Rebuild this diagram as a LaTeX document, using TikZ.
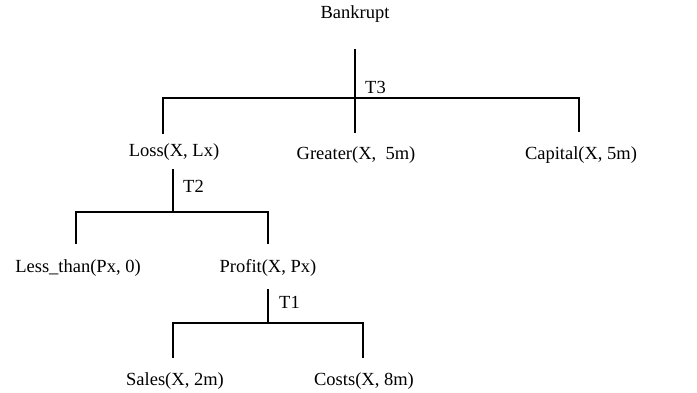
\documentclass[tikz,border=0pt]{standalone}
\usepackage{fontspec}
\setmainfont{Liberation Serif}
\begin{document}
\begin{tikzpicture}[x=1pt,y=-1pt,
  lbl/.style={font=\fontsize{18.5}{22}\selectfont, inner sep=0pt, anchor=center},
  tlbl/.style={font=\fontsize{18.5}{22}\selectfont, inner sep=0pt, anchor=west},
  ln/.style={line width=1.8pt, line cap=rect}]
\useasboundingbox (0,0) rectangle (697,393);
% nodes
\node[lbl] (bank) at (355,14) {Bankrupt};
\node[lbl] (loss) at (174,152) {Loss(X, Lx)};
\node[lbl] (greater) at (356,155) {Greater(X, \ 5m)};
\node[lbl] (capital) at (581,155) {Capital(X, 5m)};
\node[lbl] (less) at (78,268) {Less\_than(Px, 0)};
\node[lbl] (profit) at (268,268) {Profit(X, Px)};
\node[lbl] (sales) at (175,381) {Sales(X, 2m)};
\node[lbl] (costs) at (364,381) {Costs(X, 8m)};
% T3
\coordinate (t3top) at (355,50);
\coordinate (t3j) at (355,98);
\coordinate (t3bot) at (355,132);
\coordinate (t3l) at (163,98);
\coordinate (t3r) at (579,98);
\coordinate (t3ld) at (163,133);
\coordinate (t3rd) at (579,131);
\draw[ln] (t3top) -- (t3bot);
\draw[ln] (t3l) -- (t3r);
\draw[ln] (t3l) -- (t3ld);
\draw[ln] (t3r) -- (t3rd);
\node[tlbl] (T3) at (365,87) {T3};
% T2
\coordinate (t2top) at (173,170);
\coordinate (t2j) at (173,212);
\coordinate (t2l) at (76,212);
\coordinate (t2r) at (268,212);
\coordinate (t2ld) at (76,243);
\coordinate (t2rd) at (268,243);
\draw[ln] (t2top) -- (t2j);
\draw[ln] (t2l) -- (t2r);
\draw[ln] (t2l) -- (t2ld);
\draw[ln] (t2r) -- (t2rd);
\node[tlbl] (T2) at (183,186) {T2};
% T1
\coordinate (t1top) at (268,290);
\coordinate (t1j) at (268,323);
\coordinate (t1l) at (173,323);
\coordinate (t1r) at (363,323);
\coordinate (t1ld) at (173,357);
\coordinate (t1rd) at (363,357);
\draw[ln] (t1top) -- (t1j);
\draw[ln] (t1l) -- (t1r);
\draw[ln] (t1l) -- (t1ld);
\draw[ln] (t1r) -- (t1rd);
\node[tlbl] (T1) at (279,302) {T1};
\end{tikzpicture}
\end{document}
